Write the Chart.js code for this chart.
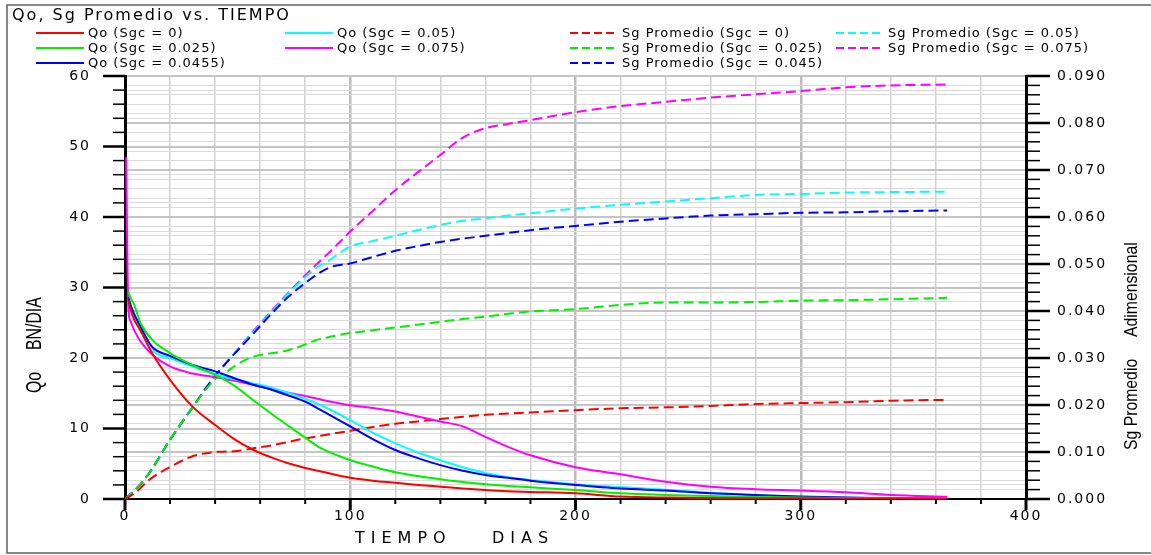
<!DOCTYPE html>
<html>
<head>
<meta charset="utf-8">
<script src="https://cdn.jsdelivr.net/npm/chart.js@4.4.1/dist/chart.umd.min.js"></script>
<style>
  html, body { margin: 0; padding: 0; background: #fff; }
  #wrap { position: relative; width: 1151px; height: 555px; }
</style>
</head>
<body>
<div id="wrap"><canvas id="grafico"></canvas></div>
<script>
// tiempos (dias) de las curvas de Qo y de Sg promedio
const qoDias = [0.5, 1, 1.5, 2.5, 4, 7, 12, 20, 30, 40, 48, 57, 65, 72, 80, 87, 100, 110, 120, 130, 140, 150, 160, 170, 180, 200, 220, 240, 260, 280, 300, 320, 340, 365]
const sgDias = [0, 5, 10, 20, 30, 40, 45, 50, 57, 65, 72, 78, 85, 91, 100, 110, 120, 130, 140, 150, 160, 170, 180, 200, 220, 240, 260, 280, 300, 320, 340, 365]

// Qo BN/DIA
const qoSgc0 = [null, null, 28.2, 26.8, 25.5, 23.8, 20.7, 16.9, 13.1, 10.5, 8.6, 6.95, 5.9, 5.1, 4.4, 3.9, 3.0, 2.6, 2.3, 2.0, 1.75, 1.5, 1.28, 1.1, 1.0, 0.8, 0.35, 0.2, 0.15, 0.12, 0.1, 0.08, 0.06, 0.05]
const qoSgc025 = [null, null, 29.4, 28.5, 27.6, 24.9, 22.6, 20.7, 19.0, 17.6, 16.2, 14.0, 12.1, 10.5, 8.7, 7.2, 5.5, 4.6, 3.8, 3.25, 2.8, 2.4, 2.1, 1.85, 1.65, 1.28, 0.8, 0.57, 0.43, 0.3, 0.2, 0.15, 0.12, 0.1]
const qoSgc0455 = [null, null, 28.6, 27.5, 26.3, 24.4, 21.6, 20.3, 19.0, 18.1, 17.2, 16.2, 15.5, 14.75, 13.8, 12.6, 10.3, 8.5, 6.95, 5.8, 4.8, 4.0, 3.4, 3.0, 2.6, 2.0, 1.5, 1.2, 0.8, 0.57, 0.35, 0.2, 0.12, 0.08]
const qoSgc05 = [null, null, 28.0, 27.0, 25.8, 24.0, 21.1, 20.0, 18.8, 17.7, 17.0, 16.4, 15.8, 15.1, 14.2, 13.3, 11.2, 9.4, 7.9, 6.6, 5.5, 4.5, 3.7, 3.1, 2.7, 2.1, 1.7, 1.3, 0.9, 0.57, 0.3, 0.2, 0.12, 0.08]
const qoSgc075 = [48.5, 35.3, 27.0, 25.2, 24.0, 22.3, 20.5, 18.8, 17.8, 17.3, 16.8, 16.2, 15.6, 15.1, 14.6, 14.1, 13.3, 12.9, 12.4, 11.7, 11.0, 10.3, 8.8, 7.4, 6.2, 4.5, 3.5, 2.45, 1.75, 1.4, 1.2, 0.95, 0.57, 0.33]

// Sg promedio (adimensional)
const sgSgc0 = [0, 0.0015, 0.0038, 0.0068, 0.0091, 0.0100, 0.0101, 0.0102, 0.0108, 0.0114, 0.0121, 0.0127, 0.0133, 0.0138, 0.0145, 0.0153, 0.0160, 0.0165, 0.0170, 0.0175, 0.0179, 0.0182, 0.0184, 0.0189, 0.0193, 0.0195, 0.0198, 0.0202, 0.0204, 0.0206, 0.0209, 0.0211]
const sgSgc025 = [0, 0.0022, 0.0050, 0.0126, 0.0195, 0.0255, 0.0270, 0.0287, 0.0303, 0.0310, 0.0316, 0.0325, 0.0338, 0.0345, 0.0353, 0.0359, 0.0365, 0.0371, 0.0377, 0.0383, 0.0388, 0.0394, 0.0399, 0.0404, 0.0413, 0.0418, 0.0418, 0.0419, 0.0422, 0.0423, 0.0425, 0.0428]
const sgSgc045 = [0, 0.0022, 0.0050, 0.0126, 0.0195, 0.0262, 0.0290, 0.0316, 0.0352, 0.0394, 0.0428, 0.0452, 0.0477, 0.0493, 0.0501, 0.0515, 0.0528, 0.0538, 0.0547, 0.0554, 0.0560, 0.0566, 0.0572, 0.0581, 0.0590, 0.0597, 0.0603, 0.0606, 0.0609, 0.0610, 0.0612, 0.0614]
const sgSgc05 = [0, 0.0022, 0.0050, 0.0126, 0.0195, 0.0262, 0.0290, 0.0318, 0.0355, 0.0398, 0.0434, 0.0463, 0.0492, 0.0509, 0.0537, 0.0549, 0.0560, 0.0572, 0.0583, 0.0592, 0.0597, 0.0603, 0.0608, 0.0618, 0.0626, 0.0633, 0.0640, 0.0647, 0.0649, 0.0652, 0.0653, 0.0654]
const sgSgc075 = [0, 0.0022, 0.0050, 0.0126, 0.0195, 0.0262, 0.0290, 0.0318, 0.0357, 0.0400, 0.0436, 0.0466, 0.0499, 0.0526, 0.0569, 0.0613, 0.0657, 0.0695, 0.0732, 0.0769, 0.0789, 0.0798, 0.0806, 0.0823, 0.0836, 0.0845, 0.0854, 0.0861, 0.0868, 0.0876, 0.0880, 0.0882]

const etiquetas = [
    'Qo (Sgc = 0)', 'Qo (Sgc = 0.025)', 'Qo (Sgc = 0.0455)', 'Qo (Sgc = 0.05)', 'Qo (Sgc = 0.075)',
    'Sg Promedio (Sgc = 0)', 'Sg Promedio (Sgc = 0.025)', 'Sg Promedio (Sgc = 0.045)', 'Sg Promedio (Sgc = 0.05)', 'Sg Promedio (Sgc = 0.075)'
]
const colores = ['#FF0000', '#00F000', '#0000FF', '#00FFFF', '#FF00FF']

function puntos(dias, valores) {
    const out = []
    dias.forEach((d, i) => { if (valores[i] !== null) out.push({ x: d, y: valores[i] }) })
    return out
}

const seriesQo = [qoSgc0, qoSgc025, qoSgc0455, qoSgc05, qoSgc075]
const seriesSg = [sgSgc0, sgSgc025, sgSgc045, sgSgc05, sgSgc075]

const datasets = []
seriesQo.forEach((s, i) => datasets.push({
    label: etiquetas[i], data: puntos(qoDias, s), yAxisID: 'y',
    borderColor: colores[i], borderWidth: 2, pointRadius: 0, fill: false,
    cubicInterpolationMode: 'monotone'
}))
seriesSg.forEach((s, i) => datasets.push({
    label: etiquetas[5 + i], data: puntos(sgDias, s), yAxisID: 'y2',
    borderColor: colores[i], borderWidth: 2, borderDash: [10, 5], pointRadius: 0, fill: false,
    cubicInterpolationMode: 'monotone'
}))

// columnas de la leyenda (indices de datasets)
const leyendaColumnas = [[0, 1, 2], [3, 4], [5, 6, 7], [8, 9]]

const esMayor10 = v => Math.abs(v % 10) < 1e-9
const esMayorSg = v => Math.round(v * 1000) % 10 === 0

const decorado = {
    id: 'decorado',
    beforeDraw(chart) {
        chart.ctx.letterSpacing = '2px'
    },
    afterDraw(chart) {
        const ctx = chart.ctx
        const a = chart.chartArea
        ctx.save()
        ctx.letterSpacing = '0px'

        // marcas de los ejes
        ctx.strokeStyle = '#000'
        const xs = chart.scales.x
        xs.ticks.forEach(t => {
            const px = xs.getPixelForValue(t.value)
            const mayor = t.value % 100 === 0
            ctx.lineWidth = mayor ? 3 : 2
            ctx.beginPath(); ctx.moveTo(px, a.bottom); ctx.lineTo(px, a.bottom + (mayor ? 11 : 5)); ctx.stroke()
        })
        const ys = chart.scales.y
        ys.ticks.forEach(t => {
            const py = ys.getPixelForValue(t.value)
            const mayor = esMayor10(t.value)
            ctx.lineWidth = mayor ? 2.5 : 1.5
            ctx.beginPath(); ctx.moveTo(a.left, py); ctx.lineTo(a.left - (mayor ? 22 : 12), py); ctx.stroke()
        })
        const y2 = chart.scales.y2
        y2.ticks.forEach(t => {
            const py = y2.getPixelForValue(t.value)
            const mayor = esMayorSg(t.value)
            ctx.lineWidth = mayor ? 2.5 : 1.5
            ctx.beginPath(); ctx.moveTo(a.right, py); ctx.lineTo(a.right + (mayor ? 24 : 14), py); ctx.stroke()
        })

        // titulo
        ctx.fillStyle = '#000'
        ctx.textBaseline = 'middle'
        ctx.textAlign = 'left'
        ctx.font = '16px "DejaVu Sans"'
        ctx.letterSpacing = '2px'
        ctx.fillText('Qo, Sg Promedio vs. TIEMPO', 12, 16)

        // leyenda
        const filas = [33, 48, 63]
        const colX = [36, 285, 570, 836]
        ctx.font = '13px "DejaVu Sans"'
        ctx.letterSpacing = '1px'
        leyendaColumnas.forEach((col, c) => {
            col.forEach((di, r) => {
                const ds = chart.data.datasets[di]
                const y = filas[r]
                ctx.strokeStyle = ds.borderColor
                ctx.lineWidth = 2
                ctx.setLineDash(ds.borderDash ? [8, 4] : [])
                ctx.beginPath(); ctx.moveTo(colX[c], y); ctx.lineTo(colX[c] + 48, y); ctx.stroke()
                ctx.setLineDash([])
                ctx.fillText(ds.label, colX[c] + 52, y + 1)
            })
        })

        // titulo eje X
        ctx.font = '16px "DejaVu Sans"'
        ctx.letterSpacing = '6px'
        ctx.fillText('TIEMPO', 355, 539)
        ctx.fillText('DIAS', 492, 539)

        // titulos ejes Y (letra angosta)
        ctx.letterSpacing = '0px'
        ctx.save()
        ctx.translate(35, 393)
        ctx.rotate(-Math.PI / 2)
        ctx.scale(0.72, 1)
        ctx.font = '22px "Liberation Sans"'
        ctx.fillText('Qo', 0, 0)
        ctx.fillText('BN/DIA', 43 / 0.72, 0)
        ctx.restore()

        ctx.save()
        ctx.translate(1132, 450)
        ctx.rotate(-Math.PI / 2)
        ctx.scale(0.83, 1)
        ctx.font = '19px "Liberation Sans"'
        ctx.fillText('Sg Promedio', 0, 0)
        ctx.fillText('Adimensional', 113 / 0.83, 0)
        ctx.restore()

        // marco
        ctx.strokeStyle = '#606060'
        ctx.lineWidth = 1.5
        ctx.strokeRect(7, 5, 1160, 548)
        ctx.restore()
    }
}

const fuenteTicks = { family: 'DejaVu Sans', size: 14 }

const cfg = {
    type: 'line',
    data: { datasets: datasets },
    options: {
        responsive: true,
        maintainAspectRatio: false,
        animation: false,
        layout: { padding: { top: 76, left: 0, right: 0, bottom: 0 } },
        plugins: { legend: { display: false }, tooltip: { enabled: false } },
        scales: {
            x: {
                type: 'linear', position: 'bottom', min: 0, max: 400,
                ticks: {
                    stepSize: 20, autoSkip: false, maxRotation: 0, padding: 9,
                    color: '#000', font: fuenteTicks,
                    callback: v => (v % 100 === 0 ? String(v) : '')
                },
                grid: {
                    drawTicks: false,
                    color: c => (c.tick && c.tick.value % 100 === 0 ? '#bcbcbc' : '#d2d2d2'),
                    lineWidth: c => (c.tick && c.tick.value % 100 === 0 ? 2.5 : 1.5)
                },
                border: { color: '#000', width: 2 },
                afterFit: s => { s.height = 56 }
            },
            y: {
                position: 'left', min: 0, max: 60,
                ticks: {
                    stepSize: 2, autoSkip: false, padding: 34,
                    color: '#000', font: fuenteTicks,
                    callback: v => (esMayor10(v) ? String(v) : '')
                },
                grid: {
                    drawTicks: false,
                    color: c => (c.tick && esMayor10(c.tick.value) ? '#c4c4c4' : '#dadada'),
                    lineWidth: c => (c.tick && esMayor10(c.tick.value) ? 2 : 1)
                },
                border: { color: '#000', width: 3 },
                afterFit: s => { s.width = 125 }
            },
            y2: {
                position: 'right', min: 0, max: 0.09,
                ticks: {
                    stepSize: 0.002, autoSkip: false, padding: 31,
                    color: '#000', font: fuenteTicks,
                    callback: v => (esMayorSg(v) ? v.toFixed(3) : '')
                },
                grid: {
                    drawTicks: false,
                    color: c => (c.tick && esMayorSg(c.tick.value) ? '#c4c4c4' : '#dadada'),
                    lineWidth: c => (c.tick && esMayorSg(c.tick.value) ? 2 : 1)
                },
                border: { color: '#000', width: 3 },
                afterFit: s => { s.width = 125 }
            }
        }
    },
    plugins: [decorado]
}

const ctx = document.getElementById('grafico').getContext('2d')
// eslint-disable-next-line no-undef
const grafico = new Chart(ctx, cfg)
</script>
</body>
</html>
